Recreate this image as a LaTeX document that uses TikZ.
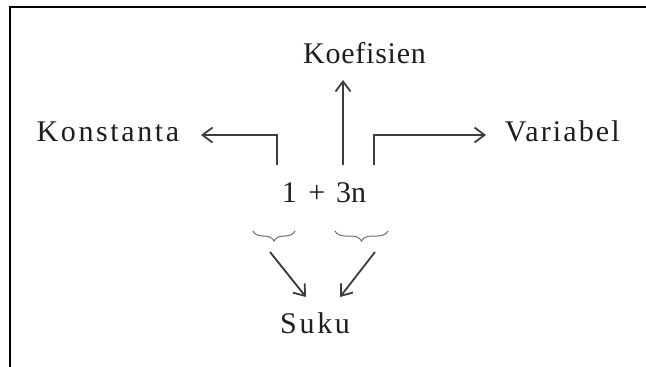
\documentclass[tikz,border=0pt]{standalone}
\usepackage{fontspec}
\setmainfont{Liberation Serif}
\usetikzlibrary{arrows.meta,decorations.pathreplacing}
\definecolor{ink}{HTML}{1E1E1E}
\definecolor{linec}{HTML}{3C3C3C}
\definecolor{bracec}{HTML}{6A6A6A}
\begin{document}
\begin{tikzpicture}[x=1pt,y=-1pt,
  lbl/.style={inner sep=0pt, anchor=base west, text=ink, font=\fontsize{30}{36}\selectfont},
  conn/.style={draw=linec, line width=1.8pt, -{Straight Barb[length=10pt,width=15pt]}},
  brc/.style={draw=bracec, line width=1pt, decorate, decoration={brace, mirror, amplitude=10pt}},
  frame/.style={draw=black, line width=2.2pt}]
\useasboundingbox (0,0) rectangle (646,367);
\draw[frame] (646,7) -- (10,7) -- (10,367);

\node[lbl] (koef) at (303,63.3) {\addfontfeature{LetterSpace=2.5}Koefisien};
\node[lbl] (kon) at (36.5,141.7) {\addfontfeature{LetterSpace=8.7}Konstanta};
\node[lbl] (var) at (504.7,141.7) {\addfontfeature{LetterSpace=7.1}Variabel};
\node[lbl] (expr) at (281.7,202.3) {1\hspace{0.38em}+\hspace{0.36em}3n};
\node[lbl] (suku) at (280,333.3) {\addfontfeature{LetterSpace=9}Suku};

\coordinate (sl) at (277,165);
\coordinate (tl) at (201,135);
\coordinate (sm) at (343,165);
\coordinate (tm) at (343,80);
\coordinate (sr) at (374,165);
\coordinate (tr) at (486,135);
\draw[conn] (sl) |- (tl);
\draw[conn] (sm) -- (tm);
\draw[conn] (sr) |- (tr);

\coordinate (bl1) at (253,231);
\coordinate (bl2) at (295,231);
\coordinate (br1) at (335,231);
\coordinate (br2) at (388,231);
\draw[brc] (bl1) -- (bl2);
\draw[brc] (br1) -- (br2);

\coordinate (dl1) at (270,252);
\coordinate (dl2) at (306,297);
\coordinate (dr1) at (375,252);
\coordinate (dr2) at (340,297);
\draw[conn] (dl1) -- (dl2);
\draw[conn] (dr1) -- (dr2);
\end{tikzpicture}
\end{document}
